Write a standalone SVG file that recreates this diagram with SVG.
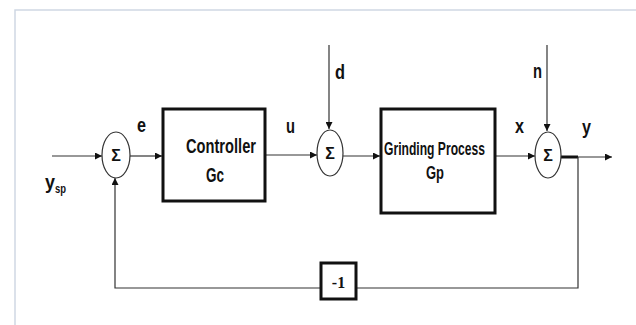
<svg xmlns="http://www.w3.org/2000/svg" width="636" height="325" viewBox="0 0 636 325">
<style>
.frame{fill:none;stroke:#cfd8e4;stroke-width:1.5}
.blk{fill:#fff;stroke:#111;stroke-width:3}
.sum{fill:#fff;stroke:#333;stroke-width:1.2}
.ln{fill:none;stroke:#333;stroke-width:1.2}
.thick{fill:none;stroke:#111;stroke-width:3}
.lbl{font-family:"Liberation Sans",Arial,sans-serif;font-weight:bold;fill:#111}
.sig{font-family:"Liberation Sans",Arial,sans-serif;font-weight:bold;font-size:16px;fill:#111;text-anchor:middle}
</style>
<defs>
<marker id="arr" viewBox="0 0 10 10" refX="10" refY="5" markerWidth="7" markerHeight="7" markerUnits="userSpaceOnUse" orient="auto">
<path d="M0,0 L10,5 L0,10 z" fill="#111"/>
</marker>
</defs>
<rect width="636" height="325" fill="#fff"/>
<path class="frame" d="M15,325 V10 H636"/>
<g id="connectors">
<line class="ln" x1="52" y1="156" x2="102" y2="156" marker-end="url(#arr)"/>
<line class="ln" x1="130" y1="156" x2="162" y2="156" marker-end="url(#arr)"/>
<line class="ln" x1="266" y1="155" x2="317" y2="155" marker-end="url(#arr)"/>
<line class="ln" x1="329" y1="45" x2="329" y2="129" marker-end="url(#arr)"/>
<line class="ln" x1="343" y1="156" x2="380" y2="156" marker-end="url(#arr)"/>
<line class="ln" x1="496" y1="156" x2="535" y2="156" marker-end="url(#arr)"/>
<line class="ln" x1="547" y1="45" x2="547" y2="131" marker-end="url(#arr)"/>
<line class="thick" x1="561" y1="157" x2="578" y2="157"/>
<line class="ln" x1="578" y1="157" x2="612" y2="157" marker-end="url(#arr)"/>
<path class="ln" d="M578,157 V288 H356"/>
<path class="ln" d="M321,288 H115 V178" marker-end="url(#arr)"/>
</g>
<g id="sum1">
<ellipse class="sum" cx="116" cy="155" rx="14" ry="23"/>
<text class="sig" x="116" y="161">Σ</text>
</g>
<g id="controller">
<rect class="blk" x="163" y="109" width="102" height="92"/>
<text class="lbl" x="186" y="153" font-size="21" textLength="70" lengthAdjust="spacingAndGlyphs">Controller</text>
<text class="lbl" x="206" y="182" font-size="21" textLength="18" lengthAdjust="spacingAndGlyphs">Gc</text>
</g>
<g id="sum2">
<ellipse class="sum" cx="330" cy="153" rx="13" ry="23"/>
<text class="sig" x="330" y="159">Σ</text>
</g>
<g id="process">
<rect class="blk" x="381" y="109" width="114" height="104"/>
<text class="lbl" x="384" y="155" font-size="18" textLength="101" lengthAdjust="spacingAndGlyphs">Grinding Process</text>
<text class="lbl" x="426" y="179" font-size="18" textLength="18" lengthAdjust="spacingAndGlyphs">Gp</text>
</g>
<g id="sum3">
<ellipse class="sum" cx="548" cy="155" rx="13" ry="23"/>
<text class="sig" x="548" y="161">Σ</text>
</g>
<g id="gain">
<rect class="blk" x="321" y="263" width="35" height="36"/>
<text x="338.5" y="288" font-family="'Liberation Serif',serif" font-weight="bold" font-size="16" text-anchor="middle" fill="#111">-1</text>
</g>
<g id="labels">
<text class="lbl" x="137" y="132" font-size="21" textLength="9" lengthAdjust="spacingAndGlyphs">e</text>
<text class="lbl" x="286" y="133" font-size="21" textLength="9" lengthAdjust="spacingAndGlyphs">u</text>
<text class="lbl" x="335" y="79" font-size="21" textLength="10" lengthAdjust="spacingAndGlyphs">d</text>
<text class="lbl" x="515" y="133" font-size="21" textLength="9" lengthAdjust="spacingAndGlyphs">x</text>
<text class="lbl" x="533" y="78" font-size="21" textLength="9" lengthAdjust="spacingAndGlyphs">n</text>
<text class="lbl" x="582" y="134" font-size="21" textLength="9" lengthAdjust="spacingAndGlyphs">y</text>
<text class="lbl" x="45" y="189" font-size="21" textLength="10" lengthAdjust="spacingAndGlyphs">y</text>
<text class="lbl" x="55" y="193" font-size="13" textLength="11" lengthAdjust="spacingAndGlyphs">sp</text>
</g>
</svg>
